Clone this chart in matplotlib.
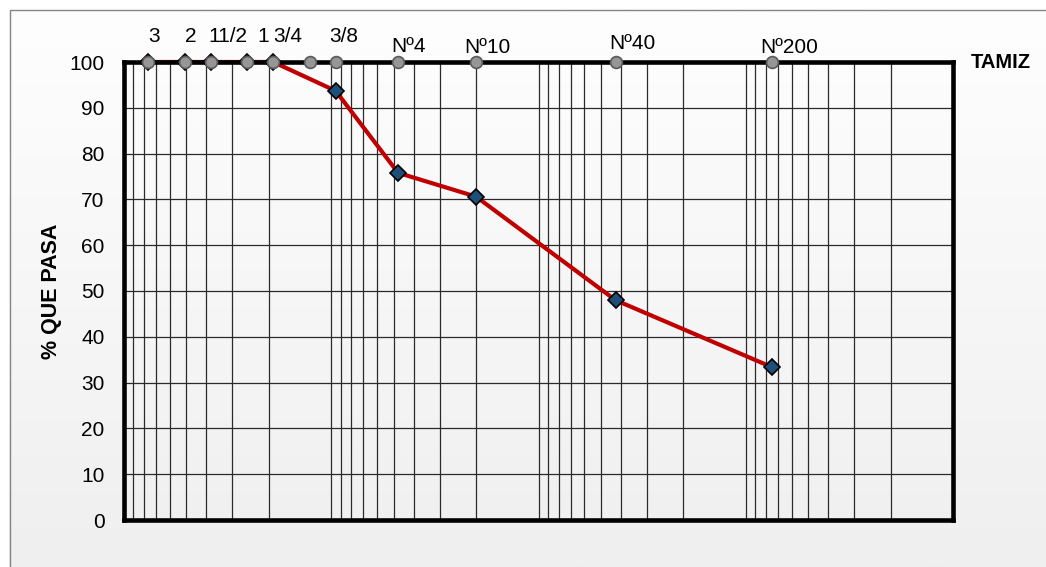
import numpy as np
import matplotlib
matplotlib.use("Agg")
from matplotlib import pyplot as plt
from matplotlib.patches import Rectangle

plt.rcParams['font.family'] = ['Liberation Sans', 'DejaVu Sans']

# sieve openings (mm) and labels
sieve_size = [76.2, 50.8, 38.1, 25.4, 19.05, 12.7, 9.525, 4.76, 2.0, 0.425, 0.075]
sieve_label = ["3", "2", "11/2", "1", "3/4", "", "3/8", "Nº4", "Nº10", "Nº40", "Nº200"]
# label offsets in pixels (left edge, baseline) from the marker
label_dx = [0, 0, -2, 10, 0, 0, -6, -7, -12, -6, -11]
label_dy = [20, 20, 20, 20, 20, 20, 20, 10, 9, 13, 9]

# grading curve
size = [76.2, 50.8, 38.1, 25.4, 19.05, 9.525, 4.76, 2.0, 0.425, 0.075]
passing = [100, 100, 100, 100, 100, 93.7, 75.8, 70.6, 48.0, 33.4]

fig = plt.figure(figsize=(10.46, 5.67), dpi=100)
fig.patch.set_facecolor("white")

# background gradient of the chart area
bg = fig.add_axes([9 / 1046, 0, 1 - 9 / 1046, 1 - 9 / 567], zorder=-5)
grad = np.linspace(0, 1, 256).reshape(-1, 1)
bg.imshow(grad, aspect="auto", cmap=matplotlib.colors.LinearSegmentedColormap.from_list(
    "g", ["#fefefe", "#efefef"]), extent=[0, 1, 0, 1], origin="upper")
bg.axis("off")
fig.add_artist(Rectangle((9.5 / 1046, -0.1), 1.2, 1 - 9.5 / 567 + 0.1,
                         transform=fig.transFigure, fill=False,
                         edgecolor="#868686", lw=1.0))

ax = fig.add_axes([124 / 1046, 1 - 520 / 567, 829 / 1046, 458 / 567])
ax.set_facecolor("none")
ax.set_xscale("log")
ax.set_xlim(100, 0.01)
ax.set_ylim(0, 100)
ax.set_yticks(np.arange(0, 101, 10))
ax.set_xticks([])
ax.set_xticks([], minor=True)

# log grid (major + minor)
for dec in [0.01, 0.1, 1, 10]:
    for k in range(1, 10):
        ax.axvline(dec * k, color="#2a2a2a", lw=0.9, zorder=1)
for yv in range(10, 100, 10):
    ax.axhline(yv, color="#2a2a2a", lw=0.9, zorder=1)

for s in ax.spines.values():
    s.set_linewidth(3.3)
    s.set_color("black")
    s.set_zorder(3)

ax.tick_params(axis="y", length=0, pad=14, labelsize=15)
ax.tick_params(axis="x", length=0)
ax.set_ylabel("% QUE PASA", fontsize=15.5, fontweight="bold", labelpad=5)

ax.plot(size, passing, color="#c00000", lw=3, zorder=2.5, clip_on=False)
ax.plot(size, passing, ls="none", marker="D", ms=8,
        markerfacecolor="#1f4e79", markeredgecolor="black", mew=1.2,
        zorder=4, clip_on=False)

ax.plot(sieve_size, [100] * len(sieve_size), ls="none", marker="o", ms=8.5,
        markerfacecolor="#969696", markeredgecolor="#5a5a5a", mew=1.2,
        zorder=5, clip_on=False)

for xs, lab, dx, dy in zip(sieve_size, sieve_label, label_dx, label_dy):
    if lab:
        ax.annotate(lab, (xs, 100), xytext=(dx, dy), textcoords="offset pixels",
                    ha="left", va="baseline", fontsize=15, annotation_clip=False)

fig.text(1001 / 1046, 1 - 63 / 567, "TAMIZ", fontsize=14.5, fontweight="bold",
         ha="center", va="center")

fig.savefig("out.png", dpi=100)
